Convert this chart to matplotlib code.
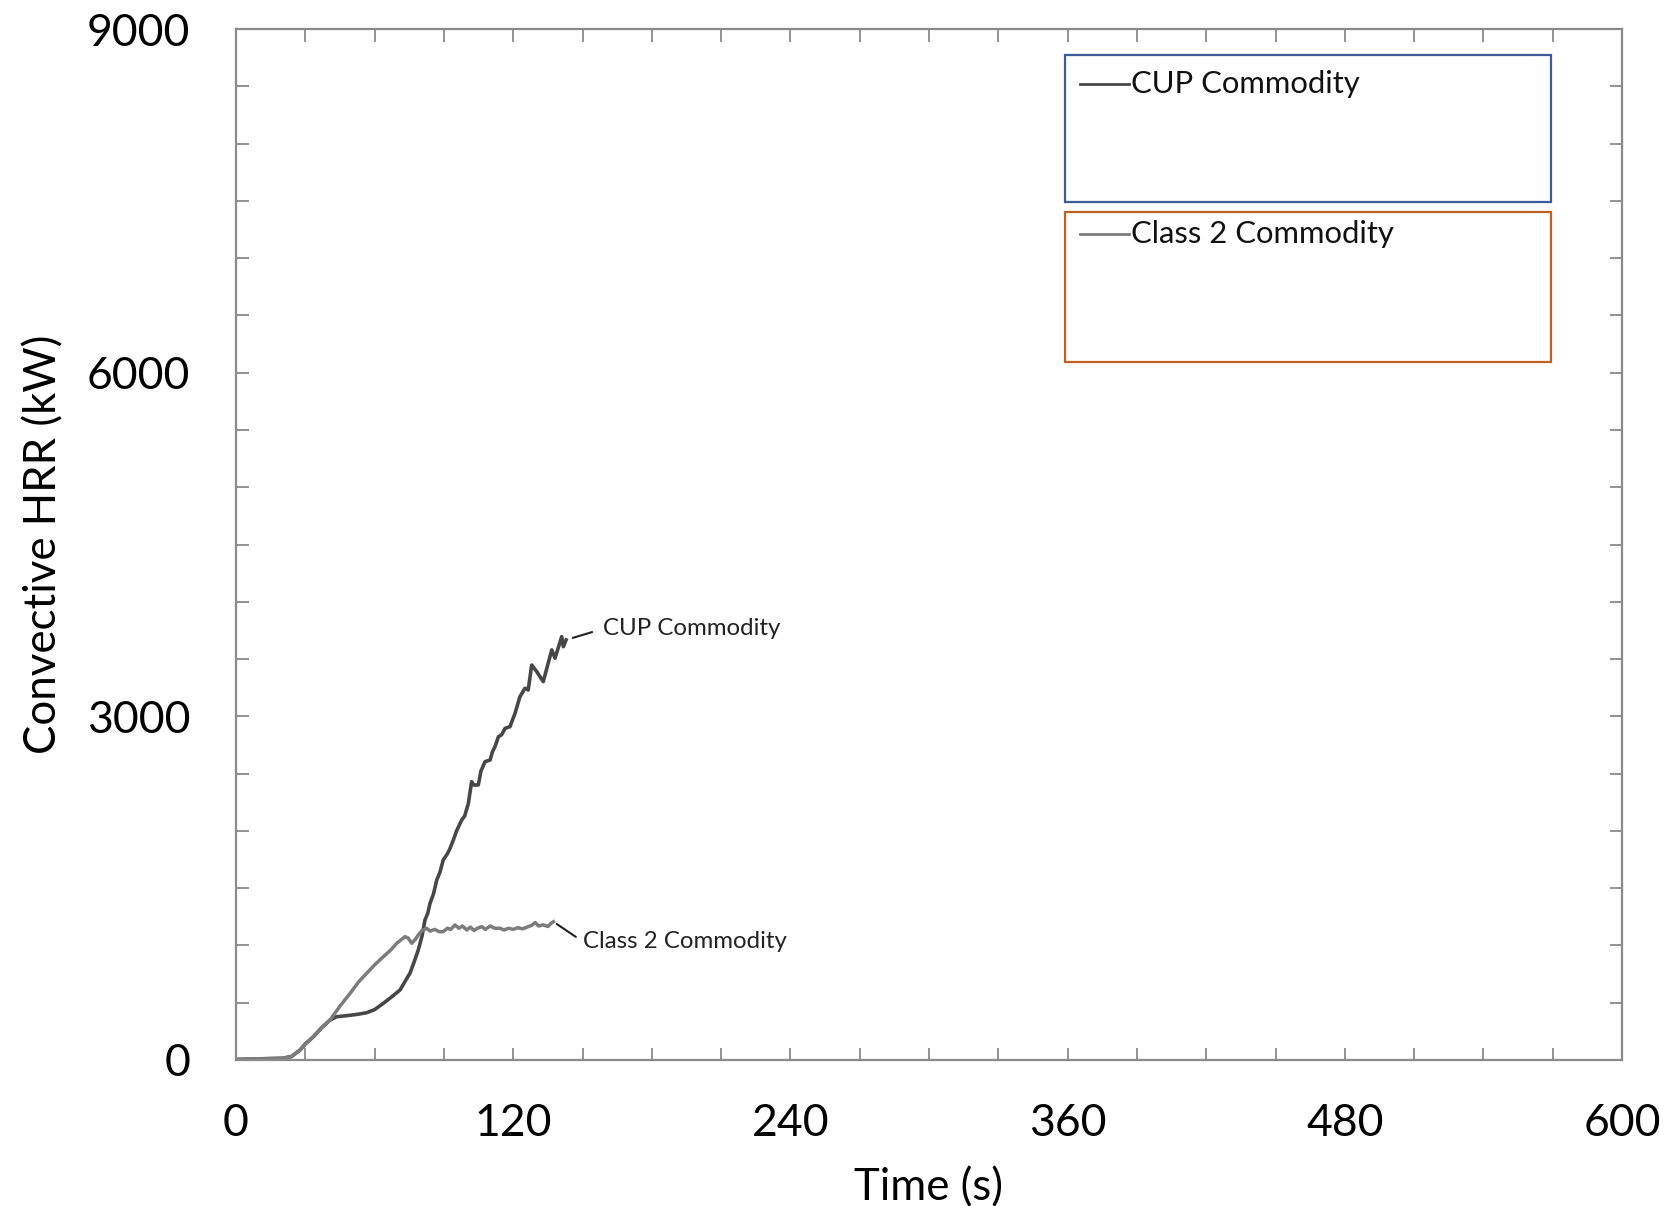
import numpy as np
import matplotlib.pyplot as plt
from matplotlib.patches import Rectangle
from matplotlib.ticker import MultipleLocator

plt.rcParams['font.family'] = ['Lato', 'DejaVu Sans']

# CUP commodity, convective HRR
cup_t = [0, 10, 20, 24, 27.7, 30, 33.5, 37, 40.7, 43.6, 47, 50, 53, 56.6, 60,
         63.8, 67, 71, 73, 75.3, 77, 78.9, 80.5, 81.8, 83, 84, 85.5, 86.9, 88.3,
         89.7, 91.5, 92.5, 94.1, 95.5, 97.7, 99, 100.6, 102, 103, 104.9, 106,
         107.8, 110, 111, 112.1, 113.6, 115, 116.5, 118.6, 120.8, 122.9, 125.1,
         126.5, 128, 130.2, 133, 136.7, 138.1, 141, 141.7, 142.9]
cup_hrr = [5, 10, 15, 30, 87, 140, 203, 280, 349, 378, 385, 392, 400, 413, 440,
           495, 545, 611, 680, 757, 850, 960, 1080, 1222, 1280, 1368, 1450, 1571,
           1640, 1746, 1800, 1840, 1921, 2000, 2095, 2130, 2241, 2430, 2400,
           2401, 2520, 2604, 2619, 2690, 2735, 2822, 2840, 2895, 2910, 3027,
           3171, 3245, 3230, 3448, 3390, 3303, 3580, 3507, 3696, 3608, 3667]

# Class 2 commodity
c2_t = [0, 10, 20, 24, 27.7, 30, 33.5, 37, 40.7, 45, 49.4, 53, 56.6, 60, 63.8,
        67, 69.6, 71.5, 73.2, 74.5, 76.1, 77.5, 78.9, 80.5, 82.5, 84, 86, 88,
        89.7, 91.5, 93, 94.8, 96.5, 98, 99.9, 101.5, 103, 104.5, 106.4, 108,
        110, 112, 114.3, 116, 118, 120, 122, 124, 126, 128, 129.5, 131, 133,
        135, 136.5, 137.4]
c2_hrr = [5, 10, 15, 30, 87, 140, 203, 280, 349, 470, 582, 680, 757, 830, 902,
          960, 1019, 1050, 1077, 1065, 1019, 1050, 1091, 1130, 1150, 1125, 1140,
          1120, 1120, 1150, 1140, 1179, 1150, 1170, 1135, 1160, 1130, 1150,
          1164, 1140, 1170, 1150, 1150, 1135, 1150, 1140, 1155, 1145, 1160,
          1175, 1200, 1170, 1180, 1165, 1195, 1207]

series_names = ['CUP Commodity', 'Class 2 Commodity']
x_ticks = [0, 120, 240, 360, 480, 600]
y_ticks = [0, 3000, 6000, 9000]

fig = plt.figure(figsize=(16.68, 12.06), dpi=100)
ax = fig.add_axes([236 / 1668, 1 - 1060 / 1206, 1386 / 1668, 1031 / 1206])

cup_col = '#474747'
c2_col = '#7c7c7c'
ax.plot(cup_t, cup_hrr, color=cup_col, lw=2.6)
ax.plot(c2_t, c2_hrr, color=c2_col, lw=2.5)

ax.set_xlim(0, 600)
ax.set_ylim(0, 9000)
ax.set_xticks(x_ticks)
ax.set_yticks(y_ticks)
ax.xaxis.set_minor_locator(MultipleLocator(30))
ax.yaxis.set_minor_locator(MultipleLocator(500))
ax.tick_params(which='both', direction='in', top=True, right=True, length=9,
               width=1.3, color='#8a8a8a', labelsize=32)
ax.tick_params(axis='x', pad=31)
ax.tick_params(axis='y', pad=33)
for sp in ax.spines.values():
    sp.set_color('#8a8a8a')
    sp.set_linewidth(1.6)

ax.set_xlabel('Time (s)', fontsize=31.5, labelpad=17)
ax.set_ylabel('Convective HRR (kW)', fontsize=31.5, labelpad=16)

# inline labels at curve ends
ax.annotate(series_names[0], xy=(cup_t[-1], cup_hrr[-1]), xytext=(26.5, 8),
            textcoords='offset points', ha='left', va='center', fontsize=17.3,
            color='#222222',
            arrowprops=dict(arrowstyle='-', color='#222222', lw=1.5,
                            relpos=(0, 0.5), shrinkA=6, shrinkB=5))
ax.annotate(series_names[1], xy=(c2_t[-1], c2_hrr[-1]), xytext=(21.5, -14.5),
            textcoords='offset points', ha='left', va='center', fontsize=17.3,
            color='#222222',
            arrowprops=dict(arrowstyle='-', color='#222222', lw=1.5,
                            relpos=(0, 0.5), shrinkA=4, shrinkB=3))

# boxed legend entries
boxes = [(0.832, 0.975, '#3d5a99', cup_col, 0.028),
         (0.677, 0.8225, '#c0601e', c2_col, 0.021)]
for name, (y0, y1, ec, lc, dy) in zip(series_names, boxes):
    ax.add_patch(Rectangle((0.598, y0), 0.351, y1 - y0, transform=ax.transAxes,
                           fill=False, ec=ec, lw=1.6, zorder=5))
    ty = y1 - dy
    ax.plot([0.609, 0.644], [ty, ty], transform=ax.transAxes, color=lc, lw=2)
    ax.text(0.646, ty, name, transform=ax.transAxes, ha='left', va='center',
            fontsize=22.3, color='#111111')

fig.savefig('out.png', dpi=100)
